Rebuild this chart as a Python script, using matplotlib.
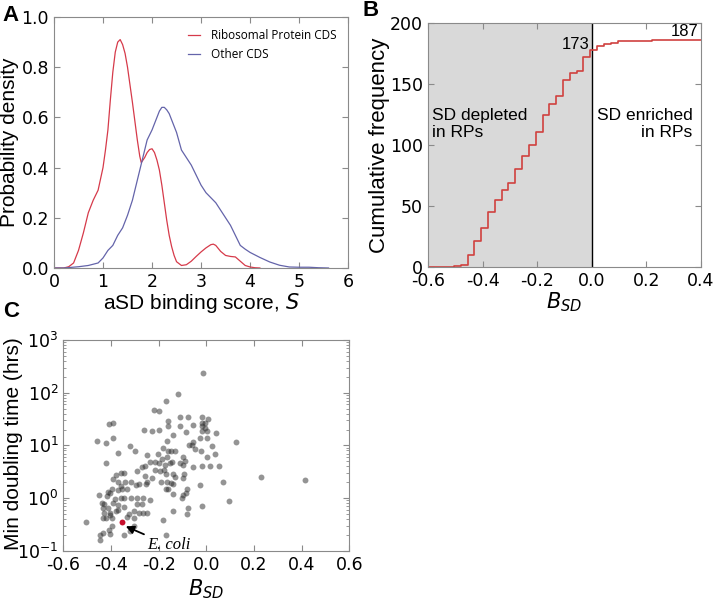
import numpy as np
import matplotlib
matplotlib.use("Agg")
import matplotlib.pyplot as plt

plt.rcParams["axes.unicode_minus"] = False

# ---- panel A: density curves
s_rp = [0.0, 0.2, 0.3, 0.4, 0.5, 0.6, 0.7, 0.8, 0.9, 1.0, 1.05, 1.1, 1.15, 1.2, 1.25, 1.3,
        1.35, 1.4, 1.45, 1.5, 1.55, 1.6, 1.65, 1.7, 1.75, 1.78, 1.85, 1.9, 1.95, 2.0, 2.05,
        2.1, 2.15, 2.2, 2.25, 2.3, 2.35, 2.4, 2.45, 2.5, 2.6, 2.7, 2.8, 2.9, 3.0,
        3.1, 3.2, 3.25, 3.3, 3.4, 3.5, 3.6, 3.7, 3.8, 3.9, 4.0, 4.1, 4.2]
d_rp = [0.0, 0.0, 0.005, 0.02, 0.07, 0.14, 0.22, 0.27, 0.31, 0.40, 0.47, 0.55, 0.67, 0.78,
        0.86, 0.90, 0.91, 0.89, 0.855, 0.80, 0.73, 0.66, 0.585, 0.51, 0.445, 0.42, 0.44,
        0.46, 0.472, 0.475, 0.46, 0.43, 0.39, 0.33, 0.26, 0.19, 0.13, 0.085, 0.05, 0.025,
        0.01, 0.013, 0.027, 0.046, 0.064, 0.08, 0.093, 0.095, 0.09, 0.066, 0.05, 0.046,
        0.044, 0.027, 0.01, 0.004, 0.001, 0.0]

s_other = [0.0, 0.2, 0.5, 0.7, 0.9, 1.0, 1.1, 1.2, 1.3, 1.4, 1.5, 1.6, 1.7, 1.8, 1.9, 2.0,
           2.1, 2.15, 2.2, 2.25, 2.3, 2.35, 2.4, 2.5, 2.6, 2.7, 2.8, 2.9, 3.0, 3.1, 3.2,
           3.3, 3.4, 3.5, 3.6, 3.7, 3.8, 3.9, 4.0, 4.2, 4.4, 4.6, 4.8, 5.0, 5.2, 5.4, 5.6]
d_other = [0.0, 0.0, 0.005, 0.01, 0.02, 0.04, 0.07, 0.09, 0.13, 0.16, 0.21, 0.27, 0.35,
           0.43, 0.51, 0.55, 0.60, 0.625, 0.64, 0.64, 0.63, 0.615, 0.59, 0.54, 0.47, 0.44,
           0.41, 0.37, 0.33, 0.30, 0.28, 0.26, 0.23, 0.20, 0.17, 0.13, 0.09, 0.075, 0.062,
           0.042, 0.024, 0.011, 0.004, 0.003, 0.003, 0.001, 0.0]

# ---- panel B: cumulative counts of B_SD
b_edges = [-0.6, -0.505, -0.48, -0.455, -0.43, -0.405, -0.38, -0.355, -0.33, -0.305, -0.28,
           -0.255, -0.23, -0.205, -0.18, -0.155, -0.13, -0.105, -0.08, -0.055, -0.03,
           -0.005, 0.02, 0.045, 0.07, 0.095, 0.22, 0.4]
b_cum = [0, 1, 2, 10, 21, 32, 45, 55, 63, 69, 80, 91, 100, 111, 125, 134, 140, 153, 159,
         161, 172, 178, 181, 183, 184, 185, 186, 186]

# ---- panel C: B_SD vs min doubling time
bsd = [-0.17, -0.22, -0.20, -0.41, -0.39, -0.16, -0.26, -0.23, -0.20, -0.16, -0.46, -0.42,
       -0.39, -0.32, -0.30, -0.37, -0.165, -0.18, -0.16,
       -0.013, -0.12, -0.11, -0.076, -0.019, 0.008, -0.019, -0.005, -0.055, -0.11, -0.019,
       -0.005, 0.004, -0.019, -0.086, 0.039, -0.138, -0.026, 0.002, -0.057, 0.123, -0.071,
       -0.061, -0.049, 0.025, -0.149, -0.131, -0.023, 0.035, -0.099, 0.002,
       -0.42, -0.257, -0.248, -0.204, -0.186, -0.166, -0.152, -0.236, -0.215, -0.197, -0.173,
       -0.269, -0.215, -0.194, -0.176, -0.359, -0.344, -0.377, -0.292, -0.257, -0.229, -0.248,
       -0.191, -0.164, -0.39, -0.369, -0.341, -0.317, -0.295, -0.282, -0.359, -0.253, -0.394,
       -0.414, -0.404, -0.372, -0.353, -0.332, -0.449, -0.418, -0.385, -0.356, -0.346, -0.317,
       -0.292, -0.267, -0.236, -0.439, -0.428, -0.393, -0.372, -0.344, -0.292, -0.271, -0.435,
       -0.414, -0.404, -0.377, -0.369, -0.324, -0.303, -0.282, -0.267, -0.248, -0.428, -0.422,
       -0.404, -0.397, -0.505, -0.432, -0.332, -0.304, -0.394, -0.408, -0.435, -0.303, -0.32,
       -0.446, -0.446, -0.404, -0.344,
       -0.089, -0.145, -0.055, -0.019, 0.016, 0.055, -0.099, -0.11, -0.169, -0.141, -0.094,
       -0.131, -0.099, -0.149, -0.141, -0.026, 0.069, -0.169, -0.159, -0.08, -0.085, -0.099,
       -0.103, -0.138, 0.095, -0.019, -0.076, -0.138, -0.08, -0.18, -0.169,
       0.23, 0.415]
dbl_time = [70, 47, 44, 25, 27, 29, 20, 19, 20, 23, 12, 11, 14, 9.7, 7.9, 7.1, 12, 8.8, 7.8,
            233, 94, 35, 35, 35, 32, 27, 27, 24, 23, 23, 21, 19, 19, 18, 17, 15.5, 13.6, 13.6,
            11.7, 11.7, 10, 10, 8.6, 9.7, 7.9, 7.9, 7.9, 6.8, 5.9, 5.9,
            4.6, 4.1, 6.5, 6.8, 5.4, 5.9, 4.7, 4.9, 4.9, 4.7, 4.2, 3.8, 3.4, 3.3, 3.4, 3.0, 3.0,
            2.7, 3.2, 2.6, 2.4, 2.0, 2.0, 2.0, 2.3, 2.0, 2.0, 2.0, 1.8, 1.85, 1.7, 1.85, 1.46,
            1.32, 1.26, 1.42, 1.46, 1.46, 1.14, 1.09, 0.94, 0.99, 0.99, 0.99, 0.99, 0.99, 0.92,
            0.81, 0.76, 0.81, 0.74, 0.68, 0.77, 0.77, 0.64, 0.64, 0.53, 0.57, 0.59, 0.49, 0.57,
            0.53, 0.51, 0.51, 0.51, 0.42, 0.48, 0.41, 0.35, 0.41, 0.44, 0.41, 0.29, 0.25, 0.22,
            0.29, 0.24, 0.20, 0.16, 0.21, 0.20,
            5.1, 4.9, 3.8, 4.1, 4.0, 4.0, 4.2, 4.6, 2.9, 2.9, 2.9, 2.5, 2.4, 1.9, 1.85, 1.77,
            2.0, 1.46, 1.46, 1.46, 1.23, 1.14, 0.99, 1.19, 0.89, 0.70, 0.65, 0.57, 0.49, 0.39,
            0.20,
            2.5, 2.2]
ecoli_bsd = -0.355
ecoli_time = 0.35

red = "#d0413f"
spine_gray = "#8a8a8a"
label_font = "Liberation Sans"


def style_axes(ax, size=12.5):
    for sp in ax.spines.values():
        sp.set_color(spine_gray)
    ax.tick_params(direction="in", top=True, right=True, which="both",
                   color=spine_gray, labelsize=size, length=4)
    ax.tick_params(which="minor", length=2)


fig = plt.figure(figsize=(7.14, 6.07), dpi=100)

# A
axA = fig.add_axes([0.0756, 0.5585, 0.412, 0.4135])
axA.plot(s_rp, d_rp, color="#d63a4a", lw=0.9, label="Ribosomal Protein CDS")
axA.plot(s_other, d_other, color="#6464aa", lw=0.9, label="Other CDS")
axA.set_xlim(0, 6)
axA.set_ylim(0, 1.0)
axA.set_xticks([0, 1, 2, 3, 4, 5, 6])
axA.set_yticks([0.0, 0.2, 0.4, 0.6, 0.8, 1.0])
axA.set_xlabel("aSD binding score, $S$", fontsize=15, family=label_font, labelpad=0)
axA.set_ylabel("Probability density", fontsize=15, family=label_font, labelpad=2)
axA.legend(loc="upper right", frameon=False, handlelength=1.0, handletextpad=0.9,
           borderaxespad=0.6, prop={"family": "Open Sans", "size": 8.5})
style_axes(axA)

# B
axB = fig.add_axes([0.5994, 0.560, 0.382, 0.402])
axB.axvspan(-0.6, 0.0, color="#d9d9d9", lw=0)
axB.axvline(0.0, color="k", lw=1)
axB.step(b_edges, b_cum, where="post", color=red, lw=1.2)
axB.set_xlim(-0.6, 0.4)
axB.set_ylim(0, 200)
axB.set_xticks([-0.6, -0.4, -0.2, 0.0, 0.2, 0.4])
axB.set_yticks([0, 50, 100, 150, 200])
axB.text(-0.006, 176.5, "173", ha="right", va="bottom", fontsize=12, family=label_font)
axB.text(0.392, 187, "187", ha="right", va="bottom", fontsize=12, family=label_font)
axB.text(-0.585, 104, "SD depleted\nin RPs", ha="left", va="bottom", fontsize=12.5,
         family=label_font, linespacing=1.15)
axB.text(0.37, 104, "SD enriched\nin RPs", ha="right", va="bottom", fontsize=12.5,
         family=label_font, linespacing=1.15, multialignment="right")
axB.set_xlabel("$B_{SD}$", fontsize=15, labelpad=0)
axB.set_ylabel("Cumulative frequency", fontsize=16, family=label_font, labelpad=0)
style_axes(axB)

# C
axC = fig.add_axes([0.0887, 0.0928, 0.4006, 0.347])
axC.scatter(bsd, dbl_time, s=18, color="#2a2a2a", alpha=0.5, lw=0)
axC.scatter([ecoli_bsd], [ecoli_time], s=18, color="#c8102e", lw=0, zorder=3)
axC.annotate("E. coli", xy=(-0.338, 0.29), xytext=(-0.25, 0.128),
             fontsize=12, fontstyle="italic", family="Liberation Serif", va="center",
             arrowprops=dict(arrowstyle="-|>", color="k", lw=1.3, mutation_scale=12,
                             shrinkA=0, shrinkB=0))
axC.set_yscale("log")
axC.set_xlim(-0.6, 0.6)
axC.set_ylim(0.1, 1000)
axC.set_xticks([-0.6, -0.4, -0.2, 0.0, 0.2, 0.4, 0.6])
axC.set_xlabel("$B_{SD}$", fontsize=15, labelpad=3)
axC.set_ylabel("Min doubling time (hrs)", fontsize=15, family=label_font)
axC.yaxis.set_label_coords(-0.142, 0.51)
style_axes(axC)

fig.text(0.004, 0.966, "A", fontsize=16, fontweight="bold", family=label_font)
fig.text(0.508, 0.974, "B", fontsize=16, fontweight="bold", family=label_font)
fig.text(0.004, 0.477, "C", fontsize=16, fontweight="bold", family=label_font)

fig.savefig("out.png", dpi=100)
